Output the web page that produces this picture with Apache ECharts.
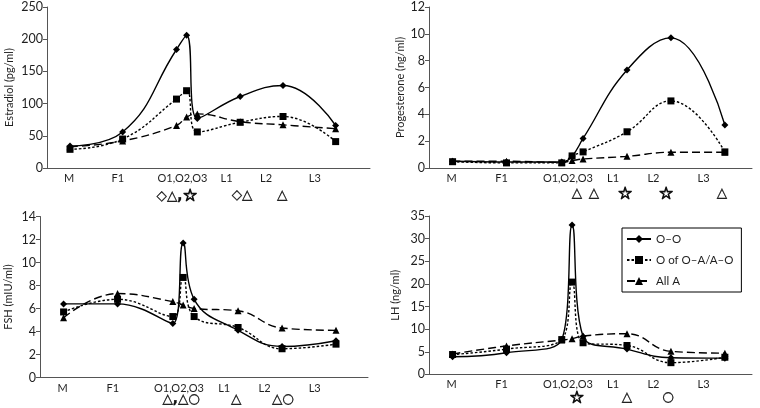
<!DOCTYPE html>
<html><head><meta charset="utf-8">
<script src="https://cdn.jsdelivr.net/npm/echarts@6/dist/echarts.min.js"></script>
<style>html,body{margin:0;padding:0;background:#fff}#c{width:760px;height:408px}</style>
</head><body><div id="c"></div>
<script>
// time points (x positions of samples along the cycle)
var phases = ['M','F1','O1','O2','O3','L1','L2','L3'];
var xPos = [7.3, 24, 41.1, 44.3, 47.7, 61.3, 74.9, 91.6];
// category tick labels
var tickLabels = ['M','F1','O1,O2,O3','L1','L2','L3'];
var tickPos = [7, 22.5, 43, 57, 69.5, 85];

var seriesNames = ['O–O','O of O–A/A–O','All A'];

// Estradiol (pg/ml)
var e2_OO = [34, 56, 184, 206, 77, 111, 128, 66];
var e2_OA = [29, 45, 107, 120, 56, 71, 80, 41];
var e2_AA = [33, 42, 66, 79, 84, 72, 67, 61];
// Progesterone (ng/ml)
var p4_OO = [0.5, 0.45, 0.45, 0.9, 2.2, 7.3, 9.7, 3.2];
var p4_OA = [0.47, 0.38, 0.38, 0.9, 1.2, 2.7, 5.0, 1.2];
var p4_AA = [0.5, 0.5, 0.42, 0.55, 0.67, 0.87, 1.17, 1.17];
// FSH (mIU/ml)
var fsh_OO = [6.4, 6.4, 4.7, 11.7, 6.8, 4.1, 2.7, 3.2];
var fsh_OA = [5.7, 6.8, 5.3, 8.7, 5.3, 4.35, 2.5, 2.9];
var fsh_AA = [5.2, 7.3, 6.6, 6.3, 6.0, 5.8, 4.3, 4.1];
// LH (ng/ml)
var lh_OO = [3.9, 4.8, 7.7, 33, 8.4, 5.6, 3.7, 3.6];
var lh_OA = [4.4, 5.6, 7.7, 20.4, 7.0, 6.4, 2.6, 3.8];
var lh_AA = [4.5, 6.3, 7.6, 7.9, 8.5, 9.0, 5.1, 4.7];

// significance marks below each panel
var e2Marks = ['◇△,☆','◇△','△'];
var e2MarkPos = [41.3, 61.9, 74.6];
var p4Marks = ['△','△','☆','☆','△'];
var p4MarkPos = [45.8, 51.1, 60.7, 73.4, 90.7];
var fshMarks = ['△,△○','△','△○'];
var fshMarkPos = [43.7, 60.7, 75.2];
var lhMarks = ['☆','△','○'];
var lhMarkPos = [45.8, 61.3, 74];

var panels = [
  {name:'Estradiol (pg/ml)', max:250, interval:50, xmax:102.5, data:[e2_OO,e2_OA,e2_AA], marks:e2Marks, markPos:e2MarkPos,
   grid:{left:47, top:7, width:323, height:161}, nameGap:32, markOffset:16},
  {name:'Progesterone (ng/ml)', max:12, interval:2, xmax:100, data:[p4_OO,p4_OA,p4_AA], marks:p4Marks, markPos:p4MarkPos,
   grid:{left:429, top:7, width:323, height:161}, nameGap:23, markOffset:14},
  {name:'FSH (mIU/ml)', max:14, interval:2, xmax:101.5, data:[fsh_OO,fsh_OA,fsh_AA], marks:fshMarks, markPos:fshMarkPos,
   grid:{left:40, top:216.5, width:328, height:161}, nameGap:26, markOffset:11},
  {name:'LH (ng/ml)', max:35, interval:5, xmax:100, data:[lh_OO,lh_OA,lh_AA], marks:lhMarks, markPos:lhMarkPos,
   grid:{left:429, top:216, width:323, height:161.5}, nameGap:28, markOffset:12}
];

var FONT = 'Lato';
var txt = '#1f1f1f';
var axisCol = '#555';
var styles = [
  {symbol:'diamond', size:7, type:'solid'},
  {symbol:'rect', size:7, type:[2.5,2]},
  {symbol:'triangle', size:7, type:[8,4]}
];
var markRich = {
  s:{fontFamily:'DejaVu Sans', fontSize:17, color:'#111', textBorderColor:'#111', textBorderWidth:1.1}
};

var grids=[], xAxes=[], yAxes=[], series=[];
panels.forEach(function(p, gi){
  grids.push(p.grid);
  // data axis
  xAxes.push({type:'value', gridIndex:gi, min:0, max:p.xmax,
    axisLine:{show:true, lineStyle:{color:axisCol, width:1}}, axisTick:{show:false},
    axisLabel:{show:false}, splitLine:{show:false}});
  // category labels axis
  xAxes.push({type:'value', gridIndex:gi, min:0, max:p.xmax, position:'bottom',
    axisLine:{show:false}, axisTick:{show:false}, splitLine:{show:false},
    axisLabel:{show:true, customValues:tickPos, margin:5,
      fontFamily:FONT, fontSize:11, color:txt,
      formatter:function(v){ var i=tickPos.indexOf(v); return i<0?'':tickLabels[i]; }}});
  // marks axis
  (function(marks, pos){
    xAxes.push({type:'value', gridIndex:gi, min:0, max:p.xmax, position:'bottom', offset:p.markOffset,
      axisLine:{show:false}, axisTick:{show:false}, splitLine:{show:false},
      axisLabel:{show:true, customValues:pos, margin:4,
        fontFamily:'DejaVu Sans', fontSize:13.5, fontWeight:'bold', color:'#111',
        textBorderColor:'#111', textBorderWidth:0.3, rich:markRich,
        formatter:function(v){ var i=pos.indexOf(v); if(i<0) return '';
          return marks[i].replace(/☆/g, '{s|☆}'); }}});
  })(p.marks, p.markPos);
  yAxes.push({type:'value', gridIndex:gi, min:0, max:p.max, interval:p.interval,
    name:p.name, nameLocation:'middle', nameGap:p.nameGap,
    nameTextStyle:{fontFamily:FONT, fontSize:11, color:txt},
    axisLine:{show:true, lineStyle:{color:axisCol, width:1}},
    axisTick:{show:true, inside:false, length:4, lineStyle:{color:axisCol}},
    axisLabel:{fontFamily:FONT, fontSize:12.5, color:txt, margin:4},
    splitLine:{show:false}});
  p.data.forEach(function(vals, si){
    var st = styles[si];
    series.push({type:'line', name:seriesNames[si], xAxisIndex:gi*3, yAxisIndex:gi,
      data: vals.map(function(v,k){ return [xPos[k], v]; }),
      smooth:0.45, symbol:st.symbol, symbolSize:st.size, showAllSymbol:true,
      lineStyle:{color:'#000', width:1.4, type:st.type},
      itemStyle:{color:'#000'}, z: 3-si, animation:false});
  });
});

var chart = echarts.init(document.getElementById('c'), null, {renderer:'canvas'});
chart.setOption({
  animation:false,
  backgroundColor:'#fff',
  grid:grids, xAxis:xAxes, yAxis:yAxes, series:series,
  legend:{data:seriesNames, orient:'vertical', left:622, top:228,
    itemWidth:24, itemHeight:10, itemGap:9, padding:[5,8,5,4],
    borderColor:'#000', borderWidth:1, backgroundColor:'#fff',
    textStyle:{fontFamily:FONT, fontSize:11.5, color:txt}}
});
</script></body></html>
